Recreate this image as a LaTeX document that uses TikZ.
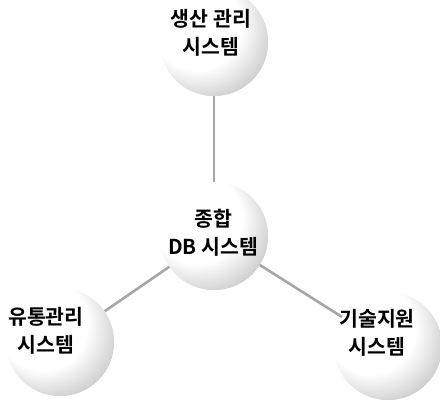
\documentclass[tikz,border=0pt]{standalone}
\usepackage{fontspec}
\newfontfamily\kr{Noto Sans CJK KR}[BoldFont={Noto Sans CJK KR Bold}]
\pgfdeclareradialshading{sphereshade}{\pgfpoint{-14bp}{14bp}}{%
  color(0bp)=(white); color(21bp)=(white); color(27bp)=(gray!20);
  color(34bp)=(gray!45); color(40bp)=(gray!62); color(50bp)=(gray!62)}
\tikzset{
  sphere/.style={circle, minimum size=108pt, inner sep=0pt, shading=sphereshade},
  label/.style={font=\kr\bfseries\fontsize{20.5}{28}\selectfont, align=center, text=black},
  link/.style={draw=gray!70, line width=2.6pt}
}
\begin{document}
\begin{tikzpicture}[x=1pt,y=-1pt]
\useasboundingbox (0,0) rectangle (440,400);
% spheres (positions)
\node[sphere] (top) at (214,42) {};
\node[sphere] (mid) at (214,236) {};
\node[sphere] (left) at (60,342) {};
\node[sphere] (right) at (388,346) {};
% connectors
\path[link] (top) -- (mid);
\path[link] (mid) -- (left);
\path[link] (mid) -- (right);
% spheres again, on top of the connectors
\node[sphere] at (top.center) {};
\node[sphere] at (mid.center) {};
\node[sphere] at (left.center) {};
\node[sphere] at (right.center) {};
% labels
\node[label] (ttop) at (211,33) {생산 관리\\시스템};
\node[label] (tmid) at (213,233) {종합\\DB 시스템};
\node[label] (tleft) at (46,331) {유통관리\\시스템};
\node[label] (tright) at (377,333) {기술지원\\시스템};
\end{tikzpicture}
\end{document}
